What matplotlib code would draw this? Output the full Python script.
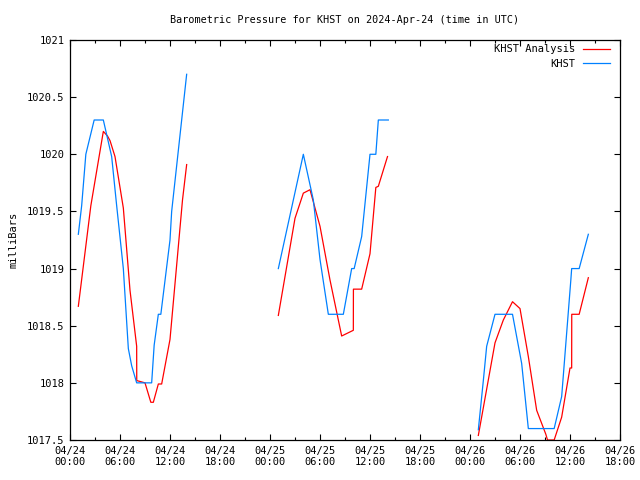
import numpy as np
import matplotlib
matplotlib.use('Agg')
import matplotlib.pyplot as plt
import matplotlib.dates as mdates
from matplotlib.ticker import FixedLocator, FuncFormatter

plt.rcParams['font.family'] = ['DejaVu Sans Mono']
plt.rcParams['font.size'] = 7.5

nan = np.nan

# hours since 2024-04-24 00:00 UTC, nan marks a gap in the data
analysis_hours = [1.0, 2.5, 4.0, 4.5, 4.8, 5.4, 6.4, 7.2, 8.0, 8.01, 9.0, 9.7, 10.0,
                  10.6, 11.0, 12.0, 13.5, 14.0, nan,
                  25.0, 27.0, 28.0, 28.8, 30.0, 31.2, 32.6, 34.0, 34.01, 35.0, 36.0,
                  36.7, 37.0, 38.1, nan,
                  49.0, 51.0, 52.0, 53.1, 54.0, 55.0, 56.0, 57.1, 57.3, 58.1, 59.0,
                  60.0, 60.2, 60.21, 61.1, 62.2]
analysis_mb = [1018.67, 1019.55, 1020.2, 1020.16, 1020.12, 1019.98, 1019.53, 1018.81,
               1018.32, 1018.02, 1018.0, 1017.83, 1017.83, 1017.99, 1017.99, 1018.38,
               1019.6, 1019.91, nan,
               1018.59, 1019.44, 1019.66, 1019.69, 1019.37, 1018.9, 1018.41, 1018.46,
               1018.82, 1018.82, 1019.13, 1019.71, 1019.72, 1019.98, nan,
               1017.54, 1018.35, 1018.55, 1018.71, 1018.65, 1018.23, 1017.76, 1017.55,
               1017.5, 1017.5, 1017.7, 1018.13, 1018.13, 1018.6, 1018.6, 1018.92]

obs_hours = [1.0, 1.4, 1.9, 2.9, 4.0, 5.0, 5.6, 6.4, 7.0, 7.4, 8.0, 9.8, 10.1, 10.6,
             10.9, 12.0, 12.2, 14.0, nan,
             25.0, 28.0, 29.2, 30.0, 31.0, 32.8, 33.8, 34.1, 35.0, 36.0, 36.7, 37.0,
             38.2, nan,
             49.0, 49.6, 50.0, 51.0, 53.1, 54.2, 55.0, 58.1, 59.0, 60.1, 60.2, 61.1,
             62.2]
obs_mb = [1019.3, 1019.55, 1020.0, 1020.3, 1020.3, 1019.98, 1019.55, 1019.0, 1018.3,
          1018.15, 1018.0, 1018.0, 1018.33, 1018.6, 1018.6, 1019.25, 1019.5, 1020.7, nan,
          1019.0, 1020.0, 1019.6, 1019.08, 1018.6, 1018.6, 1019.0, 1019.0, 1019.28,
          1020.0, 1020.0, 1020.3, 1020.3, nan,
          1017.59, 1018.02, 1018.32, 1018.6, 1018.6, 1018.17, 1017.6, 1017.6, 1017.88,
          1018.9, 1019.0, 1019.0, 1019.3]

start = np.datetime64('2024-04-24T00:00')
end_hours = 66


def to_num(hours):
    return np.array([mdates.date2num(start) + h / 24.0 for h in hours])


fig = plt.figure(figsize=(6.4, 4.8), dpi=100)
ax = fig.add_axes([70 / 640, 40 / 480, 550 / 640, 400 / 480])

ax.plot(to_num(analysis_hours), analysis_mb, color='#ff0000', lw=0.9,
        label='KHST Analysis')
ax.plot(to_num(obs_hours), obs_mb, color='#0080ff', lw=0.9, label='KHST')

t0 = mdates.date2num(start)
ax.set_xlim(t0, t0 + end_hours / 24.0)
ax.set_ylim(1017.5, 1021)

ax.xaxis.set_major_locator(FixedLocator([t0 + h / 24.0 for h in range(0, end_hours + 1, 6)]))
ax.xaxis.set_minor_locator(FixedLocator([t0 + h / 24.0 for h in range(3, end_hours, 6)]))
ax.xaxis.set_major_formatter(mdates.DateFormatter('%m/%d\n%H:%M'))
ax.yaxis.set_major_locator(FixedLocator([1017.5, 1018, 1018.5, 1019, 1019.5,
                                         1020, 1020.5, 1021]))
ax.yaxis.set_major_formatter(FuncFormatter(lambda v, p: '%g' % v))

ax.tick_params(which='both', direction='in', top=True, right=True, width=0.8,
               colors='black')
ax.tick_params(which='major', length=4.5, pad=4)
ax.tick_params(which='minor', length=2.5)
for s in ax.spines.values():
    s.set_linewidth(0.9)

ax.set_title('Barometric Pressure for KHST on 2024-Apr-24 (time in UTC)',
             fontsize=7.3, pad=12)
ax.set_ylabel('milliBars', labelpad=6)

ax.legend(loc='upper right', bbox_to_anchor=(1 - 6 / 550, 1), frameon=False,
          markerfirst=False, handlelength=2.6, handletextpad=0.75,
          borderaxespad=0.3, borderpad=0.1, labelspacing=0.45)

fig.savefig('out.png', dpi=100)
